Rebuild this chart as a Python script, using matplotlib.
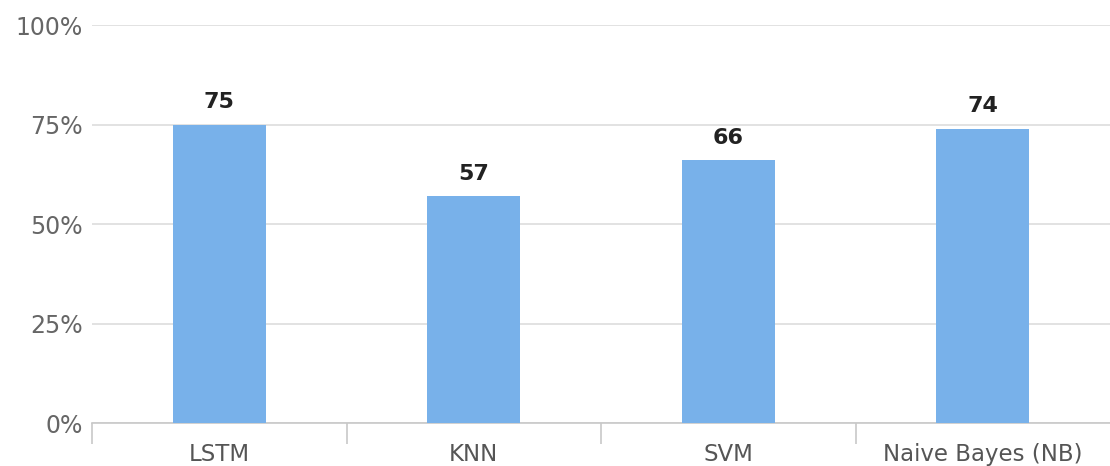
import numpy as np
import matplotlib.pyplot as plt

modele = ['LSTM', 'KNN', 'SVM', 'Naive Bayes (NB)']
wyniki = [75, 57, 66, 74]
etykiety_y = ['0%', '25%', '50%', '75%', '100%']

fig = plt.figure(figsize=(11.1, 4.66), dpi=100)
ax = fig.add_axes([0.083, 0.092, 0.917, 0.854])

x = np.arange(len(modele))
ax.bar(x, wyniki, width=0.365, color='#78b1ea', zorder=3)

for xi, w in zip(x, wyniki):
    ax.annotate(str(w), (xi, w), xytext=(0, 9), textcoords='offset points',
                ha='center', va='bottom', fontsize=16, fontweight='bold', color='#222222')

ax.set_xlim(-0.5, len(modele) - 0.5)
ax.set_ylim(0, 100)
ax.set_yticks([0, 25, 50, 75, 100])
ax.set_yticklabels(etykiety_y, fontsize=17, color='#666666')
ax.yaxis.grid(True, color='#dddddd', linewidth=1.2, zorder=0)
ax.tick_params(axis='y', length=0, pad=7)

ax.set_xticks(x)
ax.set_xticklabels(modele, fontsize=16.5, color='#555555')
ax.set_xticks(np.arange(len(modele)) - 0.5, minor=True)
ax.tick_params(axis='x', which='major', length=0, pad=14)
ax.tick_params(axis='x', which='minor', length=15, width=1.2, color='#c8c8c8', direction='out')

for s in ['top', 'right', 'left']:
    ax.spines[s].set_visible(False)
ax.spines['bottom'].set_color('#c8c8c8')
ax.spines['bottom'].set_linewidth(1.2)

plt.savefig('out.png')
